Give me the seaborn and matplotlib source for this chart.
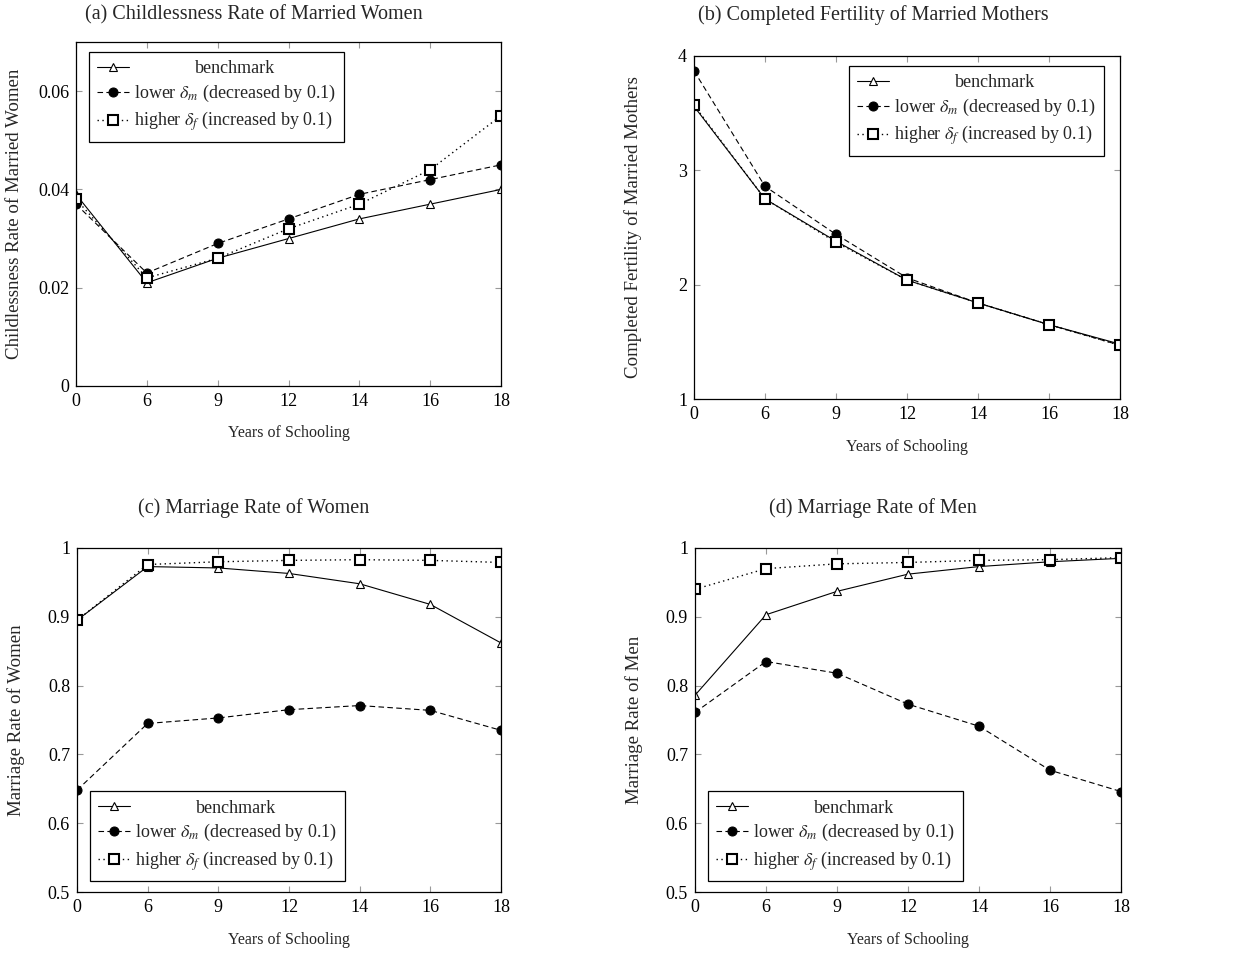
import numpy as np
import pandas as pd
import seaborn as sns
import matplotlib
matplotlib.use("Agg")
import matplotlib.pyplot as plt

# ---- data ----
schooling = ["0", "6", "9", "12", "14", "16", "18"]
series_names = ["benchmark",
                r"lower $\delta_m$ (decreased by 0.1)",
                r"higher $\delta_f$ (increased by 0.1)"]

child_bench = [0.039, 0.021, 0.026, 0.030, 0.034, 0.037, 0.040]
child_lower = [0.037, 0.023, 0.029, 0.034, 0.039, 0.042, 0.045]
child_higher = [0.038, 0.022, 0.026, 0.032, 0.037, 0.044, 0.055]

fert_bench = [3.56, 2.75, 2.38, 2.04, 1.84, 1.65, 1.48]
fert_lower = [3.87, 2.86, 2.44, 2.06, 1.84, 1.65, 1.47]
fert_higher = [3.57, 2.75, 2.37, 2.04, 1.84, 1.65, 1.47]

mw_bench = [0.895, 0.973, 0.971, 0.963, 0.948, 0.918, 0.862]
mw_lower = [0.648, 0.745, 0.753, 0.765, 0.771, 0.764, 0.735]
mw_higher = [0.895, 0.976, 0.980, 0.982, 0.983, 0.982, 0.979]

mm_bench = [0.786, 0.903, 0.937, 0.962, 0.973, 0.980, 0.985]
mm_lower = [0.761, 0.835, 0.818, 0.773, 0.741, 0.677, 0.646]
mm_higher = [0.940, 0.970, 0.977, 0.979, 0.982, 0.983, 0.986]

titles = ["(a) Childlessness Rate of Married Women",
          "(b) Completed Fertility of Married Mothers",
          "(c) Marriage Rate of Women",
          "(d) Marriage Rate of Men"]
ylabels = ["Childlessness Rate of Married Women",
           "Completed Fertility of Married Mothers",
           "Marriage Rate of Women",
           "Marriage Rate of Men"]

# ---- style ----
sns.set_theme(style="ticks")
plt.rcParams["font.family"] = ["Liberation Serif", "DejaVu Serif"]
plt.rcParams["mathtext.fontset"] = "stix"

W, H = 1233, 955
fig = plt.figure(figsize=(W / 100, H / 100), dpi=100)

def frac_rect(l, t, r, b):
    return [l / W, 1 - b / H, (r - l) / W, (b - t) / H]

rects = [frac_rect(76, 42, 501, 386), frac_rect(694, 56, 1120, 399),
         frac_rect(77, 548, 501, 892), frac_rect(695, 548, 1121, 892)]
xlabel_y = [433, 447, 940, 940]
ylims = [(0, 0.07), (1, 4), (0.5, 1.0), (0.5, 1.0)]
yticks = [[0, 0.02, 0.04, 0.06], [1, 2, 3, 4],
          [0.5, 0.6, 0.7, 0.8, 0.9, 1.0], [0.5, 0.6, 0.7, 0.8, 0.9, 1.0]]
yticklabels = [["0", "0.02", "0.04", "0.06"], ["1", "2", "3", "4"],
               ["0.5", "0.6", "0.7", "0.8", "0.9", "1"],
               ["0.5", "0.6", "0.7", "0.8", "0.9", "1"]]
data = [(child_bench, child_lower, child_higher),
        (fert_bench, fert_lower, fert_higher),
        (mw_bench, mw_lower, mw_higher),
        (mm_bench, mm_lower, mm_higher)]
legend_locs = ["upper left", "upper right", "lower left", "lower left"]
legend_anchor = [(89, 52), (1104, 66), (90, 881), (708, 881)]
title_pos = [(254, 15), (873, 15), (254, 508), (873, 508)]

styles = [
    dict(linestyle="-", marker="^", markersize=5.5, markerfacecolor="white",
         markeredgecolor="black", markeredgewidth=0.8, linewidth=0.8),
    dict(linestyle=(0, (5, 3)), marker="o", markersize=6.5, markerfacecolor="black",
         markeredgecolor="black", linewidth=0.8),
    dict(linestyle=(0, (1, 2.5)), marker="s", markersize=7, markerfacecolor="white",
         markeredgecolor="black", markeredgewidth=1.5, linewidth=1.0),
]

xpos = np.arange(len(schooling))
legends = []
for i in range(4):
    ax = fig.add_axes(rects[i])
    for j, vals in enumerate(data[i]):
        df = pd.DataFrame({"x": xpos, "y": vals})
        sns.lineplot(data=df, x="x", y="y", ax=ax, color="black",
                     label=series_names[j], **styles[j])
    ax.set_xlim(0, len(schooling) - 1)
    ax.set_ylim(*ylims[i])
    ax.set_xticks(xpos)
    ax.set_xticklabels(schooling)
    ax.set_yticks(yticks[i])
    ax.set_yticklabels(yticklabels[i])
    ax.tick_params(direction="in", top=True, right=True, length=4, width=0.8,
                   color="#999999", labelsize=13, pad=5, labelcolor="black")
    for s in ax.spines.values():
        s.set_color("black")
        s.set_linewidth(0.9)
    ax.set_xlabel("Years of Schooling", fontsize=11.5)
    ax.set_ylabel(ylabels[i], fontsize=13.6)
    ax.yaxis.set_label_coords(-61 / (rects[i][2] * W), 0.5)
    ax_bottom_px = H - (rects[i][1] * H)
    ax.xaxis.set_label_coords(0.5, -(xlabel_y[i] - ax_bottom_px) / (rects[i][3] * H))
    ax.xaxis.label.set_va("center")
    ax.yaxis.label.set_va("center")
    ax_x, ax_y = legend_anchor[i]
    leg = ax.legend(loc=legend_locs[i],
                    bbox_to_anchor=(ax_x / W, 1 - ax_y / H),
                    bbox_transform=fig.transFigure,
                    fontsize=13, frameon=True, fancybox=False, framealpha=1,
                    edgecolor="black", borderpad=0.45, labelspacing=0.32,
                    handlelength=1.75, handletextpad=0.3, borderaxespad=0)
    leg.get_frame().set_linewidth(0.9)
    legends.append(leg)
    fig.text(title_pos[i][0] / W, 1 - title_pos[i][1] / H, titles[i],
             ha="center", va="center", fontsize=14.5)

# center the "benchmark" entry like pgfplots
fig.canvas.draw()
r = fig.canvas.get_renderer()
for leg in legends:
    texts = leg.get_texts()
    widths = [t.get_window_extent(r).width for t in texts]
    texts[0].set_x((max(widths) - widths[0]) / 2)

fig.savefig("out.png", dpi=100)
